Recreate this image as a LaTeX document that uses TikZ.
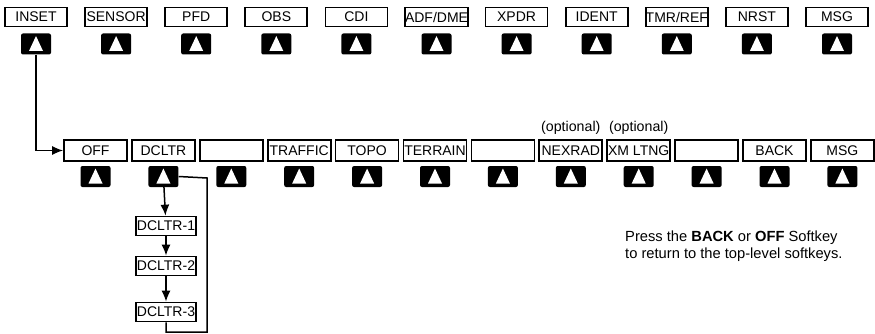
\documentclass[tikz,border=0pt]{standalone}
\usepackage{fontspec}
\setmainfont{Liberation Sans}
\usetikzlibrary{positioning,arrows.meta}

\tikzset{
  softkey/.style={draw, line width=1.7pt, minimum width=62pt, minimum height=19pt,
    inner sep=0pt, font=\fontsize{14}{16}\selectfont},
  keycap/.style={fill=black, rounded corners=2pt, minimum width=30pt,
    minimum height=21pt, inner sep=0pt},
  flow/.style={line width=1.5pt, -{Latex[length=11pt,width=9pt]}},
  loopline/.style={line width=1.5pt},
}
% white arrow on a black key
\newcommand{\keytri}[1]{\fill[white] (#1.center) ++(-7,7) -- ++(14,0) -- ++(-7,-15) -- cycle;}

\begin{document}
\begin{tikzpicture}[x=1pt,y=-1pt]
    \useasboundingbox (0,0) rectangle (875,334);
    % top-level softkeys
    \foreach \lbl [count=\i from 0] in {INSET,SENSOR,PFD,OBS,CDI,ADF/DME,XPDR,IDENT,TMR/REF,NRST,MSG} {
      \node [softkey] (top\i) at (36+80.1*\i,17) {\lbl};
      \node [keycap] (topkey\i) at (36+80.1*\i,44) {};
      \keytri{topkey\i}
    }
    % inset softkeys
    \foreach \lbl [count=\i from 0] in {OFF,DCLTR,{},TRAFFIC,TOPO,TERRAIN,{},NEXRAD,XM LTNG,{},BACK,MSG} {
      \node [softkey,minimum width=63pt,minimum height=21pt] (inset\i) at (95.5+67.9*\i,150.5) {\lbl};
      \node [keycap] (insetkey\i) at (95.5+67.9*\i,176.5) {};
      \keytri{insetkey\i}
    }
    \node [above=1pt of inset7,font=\fontsize{14.2}{16}\selectfont] (opt1) {(optional)};
    \node [above=1pt of inset8,font=\fontsize{14.2}{16}\selectfont] (opt2) {(optional)};
    % declutter levels
    \node [softkey,minimum width=60pt] (dcltr1) at (166,226) {DCLTR-1};
    \node [softkey,minimum width=60pt] (dcltr2) at (166,266) {DCLTR-2};
    \node [softkey,minimum width=60pt] (dcltr3) at (166,312) {DCLTR-3};
    \coordinate (loopa) at (207,178);
    \coordinate (loopb) at (207,332);
    \coordinate (loopc) at (166,332);
    \draw [flow] (topkey0) |- (inset0);
    \draw [flow] (insetkey1) -- (dcltr1);
    \draw [flow] (dcltr1) -- (dcltr2);
    \draw [flow] (dcltr2) -- (dcltr3);
    \draw [loopline] (insetkey1.east) -- (loopa) -- (loopb) -- (loopc) -- (dcltr3.south);
    \node [anchor=north west,align=left,inner sep=0pt,
      font=\fontsize{14.7}{17}\selectfont] (note) at (625,231)
      {Press the \textbf{BACK} or \textbf{OFF} Softkey\\to return to the top-level softkeys.};
\end{tikzpicture}
\end{document}
